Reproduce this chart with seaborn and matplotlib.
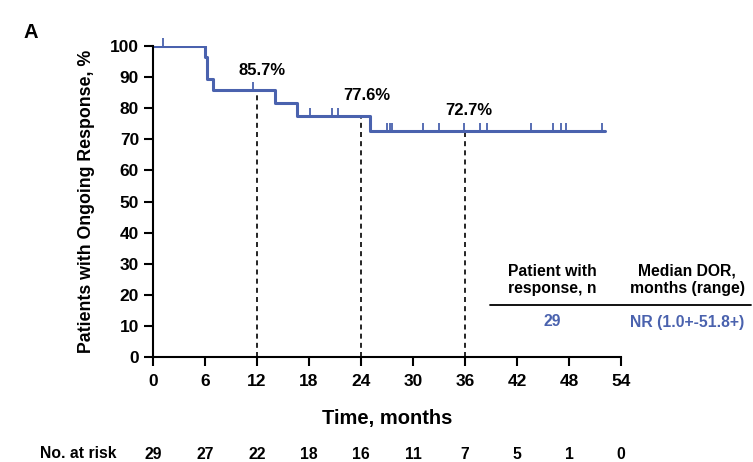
import numpy as np
import pandas as pd
import matplotlib
matplotlib.use('Agg')
import matplotlib.pyplot as plt
import seaborn as sns

# Kaplan-Meier steps
event_times = [0, 6.0, 6.2, 6.9, 14.1, 16.6, 25.0, 52.1]
survival = [100, 96.4, 89.3, 85.7, 81.6, 77.6, 72.7, 72.7]

censor_times = [1.2, 11.5, 14.1, 18.1, 20.6, 21.3, 27.0, 27.3, 27.6, 31.1,
                33.0, 35.9, 37.7, 38.5, 43.6, 46.1, 47.1, 47.7, 51.8]

landmark_times = [12, 24, 36]
landmark_values = [85.7, 77.6, 72.7]
landmark_labels = ['85.7%', '77.6%', '72.7%']

risk_times = [0, 6, 12, 18, 24, 30, 36, 42, 48, 54]
at_risk = [29, 27, 22, 18, 16, 11, 7, 5, 1, 0]

line_color = '#4A62AE'

sns.set_style('ticks')
plt.rcParams['font.family'] = ['Liberation Sans', 'DejaVu Sans']
plt.rcParams['font.weight'] = 'bold'
plt.rcParams['text.color'] = 'black'
plt.rcParams['axes.labelcolor'] = 'black'
plt.rcParams['xtick.color'] = 'black'
plt.rcParams['ytick.color'] = 'black'
plt.rcParams['axes.edgecolor'] = 'black'

fig = plt.figure(figsize=(7.53, 4.62), dpi=100)
ax = fig.add_axes([0.2032, 0.2273, 0.6215, 0.6731])

km = pd.DataFrame({'time': event_times, 'surv': survival})
sns.lineplot(data=km, x='time', y='surv', drawstyle='steps-post',
             estimator=None, color=line_color, linewidth=2.2, ax=ax)


def surv_at(t):
    idx = np.searchsorted(event_times, t, side='right') - 1
    return survival[idx]


cens = pd.DataFrame({'time': censor_times,
                     'surv': [surv_at(t) for t in censor_times]})
tick_marker = [(0, 0), (0, 1)]
sns.scatterplot(data=cens, x='time', y='surv', marker=tick_marker, s=140,
                color=line_color, edgecolor=line_color, linewidth=1.3,
                ax=ax, clip_on=False, zorder=3)

for t, v in zip(landmark_times, landmark_values):
    ax.plot([t, t], [0, v], color='black', linestyle=(0, (3, 2.5)),
            linewidth=1.2, zorder=1)

# label positions (x, y) beside each landmark
label_pos = [(12.6, 89.6), (24.7, 81.6), (36.4, 76.7)]
for (lx, ly), lab in zip(label_pos, landmark_labels):
    ax.text(lx, ly, lab, ha='center', va='bottom', fontsize=12,
            fontweight='bold')

ax.set_xlim(0, 54)
ax.set_ylim(0, 100)
ax.set_xticks(risk_times)
ax.set_yticks(range(0, 101, 10))
ax.tick_params(axis='both', labelsize=12.5, width=1.5, length=6.5,
               direction='out')
for lab in ax.get_xticklabels() + ax.get_yticklabels():
    lab.set_fontweight('bold')
ax.tick_params(axis='x', pad=6)
for side in ['left', 'bottom']:
    ax.spines[side].set_linewidth(1.5)
sns.despine(ax=ax)

ax.set_xlabel('Time, months', fontsize=14.5, fontweight='bold', labelpad=14)
ax.set_ylabel('Patients with Ongoing Response, %', fontsize=12.8,
              fontweight='bold', labelpad=11)

fig.text(23 / 753, 1 - 32 / 462, 'A', fontsize=14.5, fontweight='bold',
         ha='left', va='center')

# number at risk row
fig.text(40 / 753, 1 - 454 / 462, 'No. at risk', fontsize=11.3,
         fontweight='bold', ha='left', va='center')
for t, n in zip(risk_times, at_risk):
    ax.annotate(str(n), xy=(t, 0), xycoords=('data', 'axes fraction'),
                xytext=(0, -70), textcoords='offset points',
                ha='center', va='center', fontsize=11.3, fontweight='bold',
                annotation_clip=False)

# summary table
fig.text(552 / 753, 1 - 280 / 462, 'Patient with\nresponse, n',
         fontsize=11.3, fontweight='bold', ha='center', va='center',
         linespacing=1.2)
fig.text(687 / 753, 1 - 280 / 462, 'Median DOR,\nmonths (range)',
         fontsize=11.3, fontweight='bold', ha='center', va='center',
         linespacing=1.2)
fig.add_artist(plt.Line2D([490 / 753, 751 / 753],
                          [1 - 305 / 462, 1 - 305 / 462],
                          color='black', linewidth=1.3))
fig.text(552 / 753, 1 - 322 / 462, '29', fontsize=11.3, fontweight='bold',
         ha='center', va='center', color=line_color)
fig.text(687 / 753, 1 - 322 / 462, 'NR (1.0+-51.8+)', fontsize=11.3,
         fontweight='bold', ha='center', va='center', color=line_color)

fig.savefig('out.png', dpi=100)
